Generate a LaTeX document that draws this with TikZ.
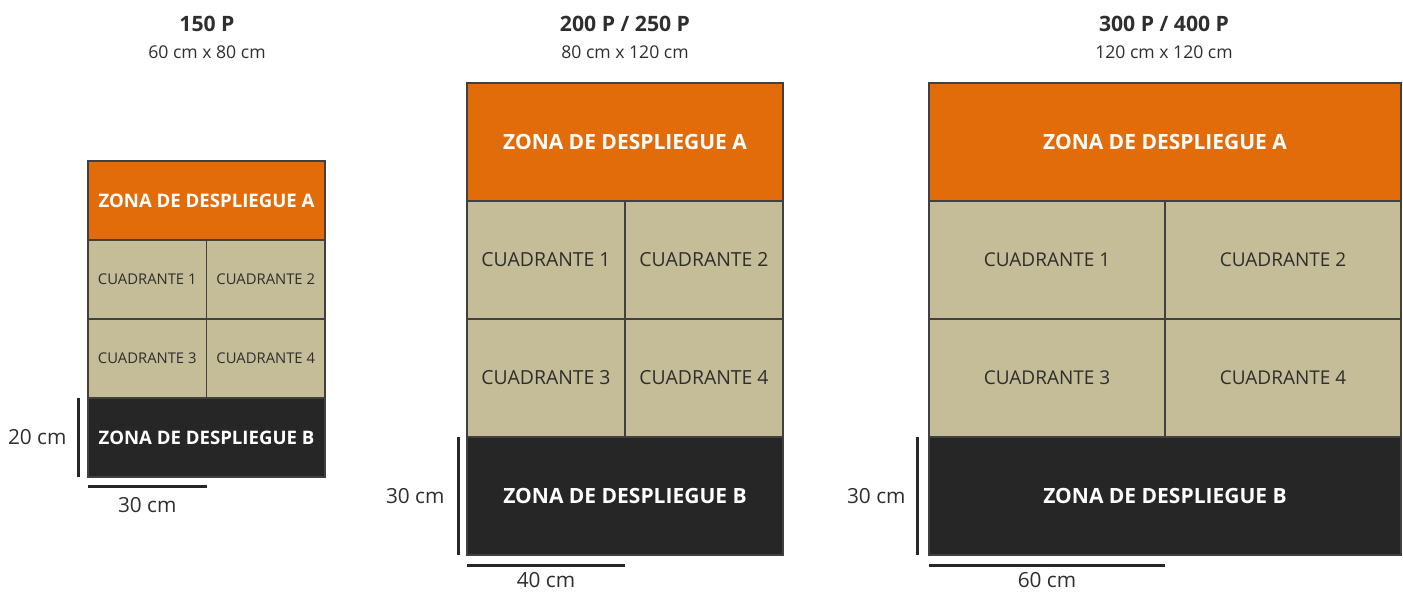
\documentclass[tikz,border=0pt]{standalone}
\usepackage{fontspec}
\setmainfont{Open Sans}
\usetikzlibrary{positioning,calc}
\definecolor{naranja}{HTML}{E36C0A}
\definecolor{arena}{HTML}{C4BD97}
\definecolor{negro}{HTML}{262626}
\definecolor{texto}{HTML}{2E2E2E}

\tikzset{
	caja/.style={draw=black!75, line width=0.6pt, inner sep=0pt, outer sep=0pt},
	zonaA/.style={caja, fill=naranja, text=white},
	zonaB/.style={caja, fill=negro, text=white},
	cuad/.style={caja, fill=arena, text=texto},
	chico/.style={minimum width=59.25pt, minimum height=39.5pt, font=\fontsize{7.4}{9}\selectfont},
	medio/.style={minimum width=79pt, minimum height=59pt, font=\fontsize{9.7}{11}\selectfont},
	grande/.style={minimum width=118pt, minimum height=59pt, font=\fontsize{9.5}{11}\selectfont},
	barra/.style={line width=1.5pt, black!85},
	medida/.style={text=texto, inner sep=1pt, font=\fontsize{10.4}{12}\selectfont},
	titulo/.style={text=texto, font=\bfseries\fontsize{10.6}{12}\selectfont},
	subtitulo/.style={text=texto, font=\fontsize{8.8}{10}\selectfont}
}

\begin{document}
\begin{tikzpicture}[x=0.5pt,y=-0.5pt]
	\useasboundingbox (0,0) rectangle (1403,596);
	% 150 P
	\node[titulo] (t1) at (207,24) {150 P};
	\node[subtitulo] (s1) at (207,52) {60 cm x 80 cm};
	\node[zonaA, minimum width=118.5pt, minimum height=39.5pt, font=\bfseries\fontsize{9.3}{11}\selectfont, anchor=north west] (a1) at (88,161) {ZONA DE DESPLIEGUE A};
	\node[cuad, chico, below right=0pt of a1.south west] (c11) {CUADRANTE 1};
	\node[cuad, chico, right=0pt of c11] (c12) {CUADRANTE 2};
	\node[cuad, chico, below=0pt of c11] (c13) {CUADRANTE 3};
	\node[cuad, chico, right=0pt of c13] (c14) {CUADRANTE 4};
	\node[zonaB, minimum width=118.5pt, minimum height=39.5pt, font=\bfseries\fontsize{9.3}{11}\selectfont, below right=0pt of c13.south west] (b1) {ZONA DE DESPLIEGUE B};
	\draw[barra] ($(b1.north west)+(-10,0)$) -- ($(b1.south west)+(-10,0)$) node[medida, midway, left=4pt] (v1) {20 cm};
	\draw[barra] ($(b1.south west)+(0,9)$) -- ($(b1.south west -| c13.east)+(0,9)$) node[medida, midway, below=4pt] (h1) {30 cm};

	% 200 P / 250 P
	\node[titulo] (t2) at (625,24) {200 P / 250 P};
	\node[subtitulo] (s2) at (625,52) {80 cm x 120 cm};
	\node[zonaA, minimum width=158pt, minimum height=59pt, font=\bfseries\fontsize{10.5}{12}\selectfont, anchor=north west] (a2) at (467,83) {ZONA DE DESPLIEGUE A};
	\node[cuad, medio, below right=0pt of a2.south west] (c21) {CUADRANTE 1};
	\node[cuad, medio, right=0pt of c21] (c22) {CUADRANTE 2};
	\node[cuad, medio, below=0pt of c21] (c23) {CUADRANTE 3};
	\node[cuad, medio, right=0pt of c23] (c24) {CUADRANTE 4};
	\node[zonaB, minimum width=158pt, minimum height=59pt, font=\bfseries\fontsize{10.5}{12}\selectfont, below right=0pt of c23.south west] (b2) {ZONA DE DESPLIEGUE B};
	\draw[barra] ($(b2.north west)+(-9,0)$) -- ($(b2.south west)+(-9,0)$) node[medida, midway, left=5pt] (v2) {30 cm};
	\draw[barra] ($(b2.south west)+(0,10)$) -- ($(b2.south west -| c23.east)+(0,10)$) node[medida, midway, below=2pt] (h2) {40 cm};

	% 300 P / 400 P
	\node[titulo] (t3) at (1164,24) {300 P / 400 P};
	\node[subtitulo] (s3) at (1164,52) {120 cm x 120 cm};
	\node[zonaA, minimum width=236pt, minimum height=59pt, font=\bfseries\fontsize{10.5}{12}\selectfont, anchor=north west] (a3) at (929,83) {ZONA DE DESPLIEGUE A};
	\node[cuad, grande, below right=0pt of a3.south west] (c31) {CUADRANTE 1};
	\node[cuad, grande, right=0pt of c31] (c32) {CUADRANTE 2};
	\node[cuad, grande, below=0pt of c31] (c33) {CUADRANTE 3};
	\node[cuad, grande, right=0pt of c33] (c34) {CUADRANTE 4};
	\node[zonaB, minimum width=236pt, minimum height=59pt, font=\bfseries\fontsize{10.5}{12}\selectfont, below right=0pt of c33.south west] (b3) {ZONA DE DESPLIEGUE B};
	\draw[barra] ($(b3.north west)+(-12,0)$) -- ($(b3.south west)+(-12,0)$) node[medida, midway, left=4pt] (v3) {30 cm};
	\draw[barra] ($(b3.south west)+(0,10)$) -- ($(b3.south west -| c33.east)+(0,10)$) node[medida, midway, below=2pt] (h3) {60 cm};
\end{tikzpicture}
\end{document}
